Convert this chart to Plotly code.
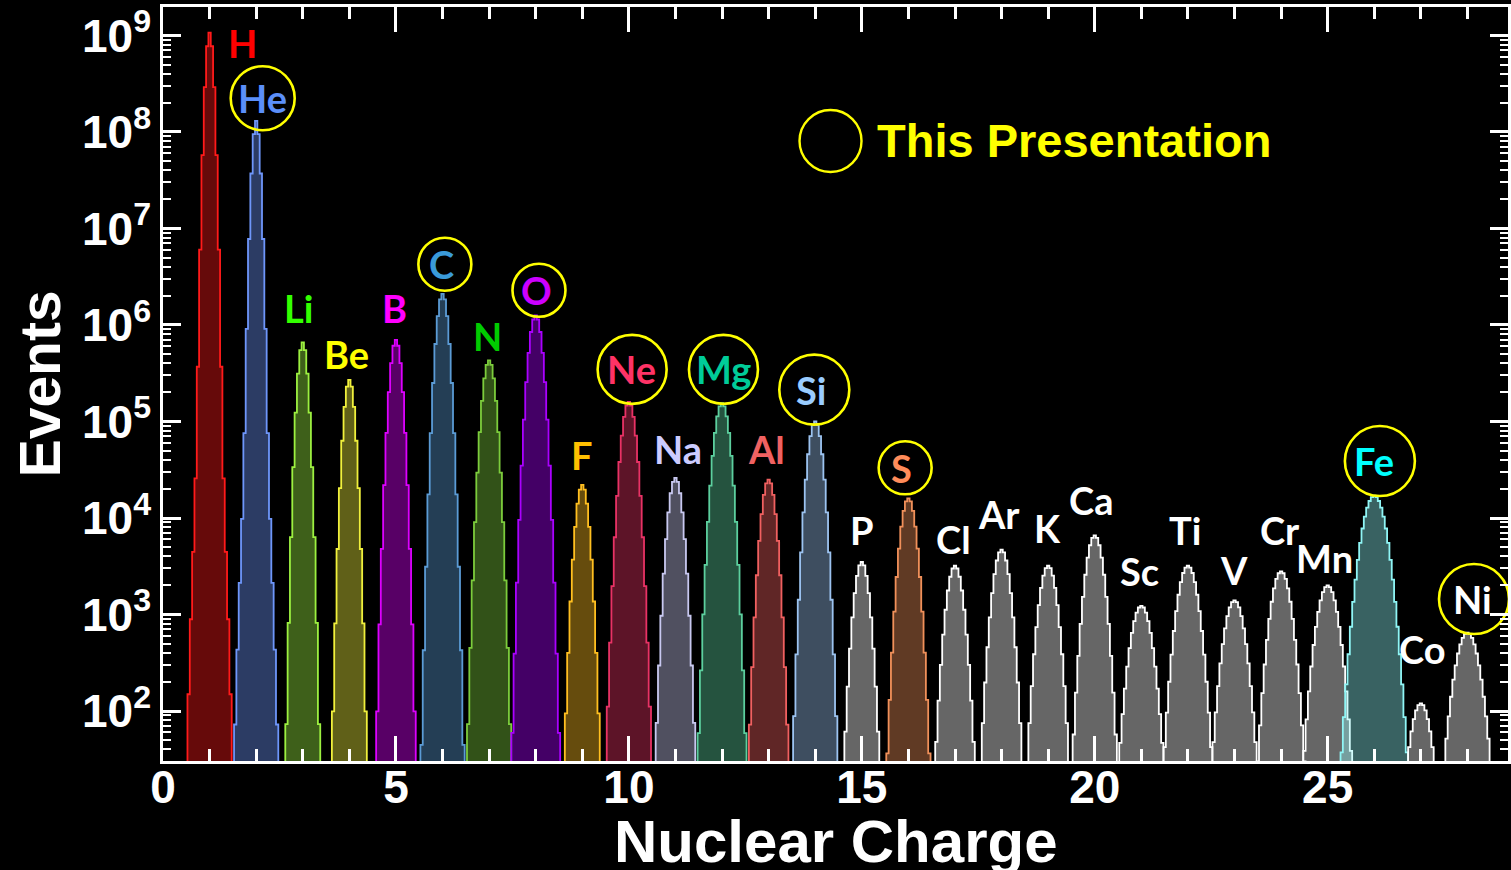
import numpy as np
import plotly.graph_objects as go

# ---------------- data ----------------
elements = ["H", "He", "Li", "Be", "B", "C", "N", "O", "F", "Ne", "Na", "Mg", "Al", "Si",
            "P", "S", "Cl", "Ar", "K", "Ca", "Sc", "Ti", "V", "Cr", "Mn", "Fe", "Co", "Ni"]
charges = list(range(1, 29))
# height of each charge peak (events in the central bin)
peak_counts = [1.07e9, 1.3e8, 6.6e5, 2.7e5, 7.0e5, 2.1e6, 4.3e5, 1.26e6, 2.2e4, 1.6e5,
               2.6e4, 1.55e5, 2.5e4, 1.0e5, 3.5e3, 1.6e4, 3.2e3, 4.7e3, 3.2e3, 6.6e3,
               1.23e3, 3.2e3, 1.4e3, 2.8e3, 2.0e3, 1.7e4, 1.2e2, 6.5e2]
# charge resolution of each peak (core width, in charge units)
peak_sigma = [0.062, 0.063, 0.082, 0.088, 0.095, 0.097, 0.108, 0.112, 0.106, 0.118,
              0.117, 0.126, 0.117, 0.120, 0.123, 0.129, 0.138, 0.139, 0.146, 0.146,
              0.176, 0.170, 0.173, 0.166, 0.178, 0.200, 0.173, 0.200]
# broad low-level tails (relative level, width) seen under H and He
tail_level = [7e-4, 2.8e-3] + [0.0] * 26
tail_sigma = [0.109, 0.109] + [0.1] * 26
circled = ["He", "C", "O", "Ne", "Mg", "Si", "S", "Fe", "Ni"]
ytick_vals = [1e2, 1e3, 1e4, 1e5, 1e6, 1e7, 1e8, 1e9]
ytick_text = ["10<sup>2</sup>", "10<sup>3</sup>", "10<sup>4</sup>", "10<sup>5</sup>",
              "10<sup>6</sup>", "10<sup>7</sup>", "10<sup>8</sup>", "10<sup>9</sup>"]
xtick_vals = [0, 5, 10, 15, 20, 25]
legend_text = "This Presentation"
x_title = "Nuclear Charge"
y_title = "Events"

# ---------------- styles ----------------
line_colors = ["#ff1a1a", "#6e96fa", "#9cf040", "#f0f03c", "#dd00ff", "#5b9bd5", "#7ccc3c",
               "#aa00ff", "#ffbf20", "#e83265", "#c8c8f0", "#5ccf9e", "#f06060", "#9cc3f0",
               "#ffffff", "#f0905a", "#ffffff", "#ffffff", "#ffffff", "#ffffff", "#ffffff",
               "#ffffff", "#ffffff", "#ffffff", "#ffffff", "#8ff5f5", "#ffffff", "#ffffff"]
label_colors = ["#ff0000", "#5b8ff9", "#33ff00", "#ffff00", "#ff00ff", "#3a9ad9", "#00cc00",
                "#cc00ff", "#ffc000", "#ff3366", "#ccccff", "#00cc99", "#f06262", "#99ccff",
                "#ffffff", "#ff8c5a", "#ffffff", "#ffffff", "#ffffff", "#ffffff", "#ffffff",
                "#ffffff", "#ffffff", "#ffffff", "#ffffff", "#00ffff", "#ffffff", "#ffffff"]
# label placement: (offset in charge, log10 position)
label_dx = [0.71, 0.14, -0.09, -0.06, -0.03, -0.03, -0.04, 0.01, -0.01, 0.06, 0.05, 0.03,
            -0.04, -0.10, 0.01, -0.15, -0.04, -0.06, -0.01, -0.09, -0.04, -0.07, -0.02, -0.02,
            -0.07, 0.0, 0.04, 0.10]
label_logy = [8.92, 8.35, 6.18, 5.70, 6.18, 6.63, 5.89, 6.36, 4.65, 5.54, 4.71, 5.54, 4.71,
              5.33, 3.88, 4.52, 3.78, 4.04, 3.90, 4.19, 3.45, 3.88, 3.46, 3.88, 3.59, 4.59,
              2.64, 3.16]
circle_dx = {"He": 0.14, "C": 0.05, "O": 0.07, "Ne": 0.07, "Mg": 0.03, "Si": -0.02,
             "S": -0.07, "Fe": 0.12, "Ni": 0.14}
circle_size = {"He": 64, "C": 53, "O": 53, "Ne": 69, "Mg": 69, "Si": 70, "S": 53,
               "Fe": 70, "Ni": 70}

BIN = 0.05
FLOOR = 1.0


def hex_rgba(h, a):
    h = h.lstrip("#")
    return f"rgba({int(h[0:2],16)},{int(h[2:4],16)},{int(h[4:6],16)},{a})"


fig = go.Figure()
for i, el in enumerate(elements):
    z = charges[i]
    k0 = int(round((z - 1.3) / BIN))
    k1 = int(round((z + 1.3) / BIN))
    centers = np.arange(k0, k1 + 1) * BIN
    d = centers - z
    counts = peak_counts[i] * (np.exp(-d**2 / (2 * peak_sigma[i]**2))
                               + tail_level[i] * np.exp(-d**2 / (2 * tail_sigma[i]**2)))
    counts = np.maximum(counts, FLOOR)
    xs = [centers[0] - BIN / 2]
    ys = [FLOOR]
    for c, n in zip(centers, counts):
        xs += [c - BIN / 2, c + BIN / 2]
        ys += [n, n]
    xs.append(centers[-1] + BIN / 2)
    ys.append(FLOOR)
    fig.add_trace(go.Scatter(
        x=xs, y=ys, mode="lines", fill="toself",
        fillcolor=hex_rgba(line_colors[i], 0.4),
        line=dict(color=line_colors[i], width=1.8),
        hoverinfo="skip", showlegend=False))

    fig.add_annotation(x=z + label_dx[i], y=label_logy[i], xref="x", yref="y",
                       text=el, showarrow=False,
                       font=dict(family="Lato", size=38, color=label_colors[i], weight="bold"))

# yellow rings around the elements of this presentation
ring_x = [charges[elements.index(el)] + circle_dx[el] for el in circled]
ring_y = [10 ** label_logy[elements.index(el)] for el in circled]
fig.add_trace(go.Scatter(
    x=ring_x, y=ring_y, mode="markers", hoverinfo="skip", showlegend=False, opacity=1,
    marker=dict(symbol="circle-open", size=[circle_size[el] for el in circled],
                color="#ffff00", opacity=1, line=dict(width=2.6, color="#ffff00"))))

# legend-like key
fig.add_shape(type="circle", xref="paper", yref="paper", xsizemode="pixel", ysizemode="pixel",
              xanchor=0.4963, yanchor=0.8223, x0=-31, x1=31, y0=-31, y1=31,
              line=dict(color="#ffff00", width=2.4))
fig.add_annotation(x=0.529, y=0.8223, xref="paper", yref="paper", xanchor="left",
                   yanchor="middle", text=legend_text, showarrow=False,
                   font=dict(family="Liberation Sans", size=47, color="#ffff00", weight="bold"))

# axis titles
title_font = dict(family="Liberation Sans", size=60, color="white", weight="bold")
fig.add_annotation(x=0.5, y=-0.1074, xref="paper", yref="paper", xanchor="center",
                   yanchor="middle", text=x_title, showarrow=False, font=title_font)
fig.add_annotation(x=-0.0912, y=0.5, xref="paper", yref="paper", xanchor="center",
                   yanchor="middle", text=y_title, showarrow=False, textangle=-90,
                   font=dict(family="Liberation Sans", size=57, color="white", weight="bold"))

axis_font = dict(family="Liberation Sans", size=46, color="white", weight="bold")
fig.update_layout(
    width=1511, height=870,
    margin=dict(l=163, r=0, t=7, b=109),
    paper_bgcolor="black", plot_bgcolor="black",
    xaxis=dict(range=[0, 28.87], showgrid=False, zeroline=False,
               showline=True, linecolor="white", linewidth=2.5, mirror="allticks",
               tickmode="array", tickvals=xtick_vals, ticks="inside", ticklen=25,
               tickwidth=2.5, tickcolor="white", tickfont=axis_font,
               ticklabelstandoff=-16,
               minor=dict(dtick=1, ticks="inside", ticklen=12, tickwidth=2.5,
                          tickcolor="white", showgrid=False)),
    yaxis=dict(type="log", range=[1.482, 9.295], showgrid=False, zeroline=False,
               showline=True, linecolor="white", linewidth=2.5, mirror="allticks",
               tickmode="array", tickvals=ytick_vals, ticktext=ytick_text,
               ticks="inside", ticklen=18, tickwidth=2.5, tickcolor="white",
               tickfont=axis_font,
               minor=dict(tickmode="array",
                          tickvals=[m * 10**p for p in range(1, 10) for m in range(2, 10)],
                          ticks="inside", ticklen=8, tickwidth=2, tickcolor="white",
                          showgrid=False)),
)

fig.write_html("out.html")
